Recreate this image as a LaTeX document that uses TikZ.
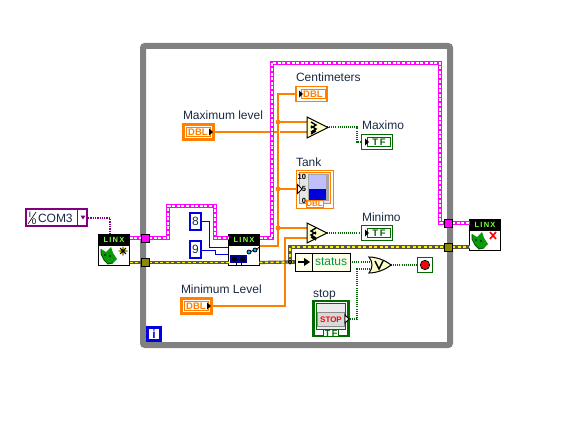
\documentclass[tikz,border=0pt]{standalone}
\usepackage{fontspec}
\setmainfont{Liberation Sans}
\definecolor{wOrange}{HTML}{FF8000}
\definecolor{wPink}{HTML}{FF00FF}
\definecolor{wGreen}{HTML}{006A00}
\definecolor{wPurple}{HTML}{800080}
\definecolor{wBlue}{HTML}{0000E0}
\definecolor{frameGray}{HTML}{808080}
\definecolor{gateFill}{HTML}{FFFFC8}
\definecolor{labelInk}{HTML}{1A2A44}
\definecolor{linxGreen}{HTML}{80FF40}
\definecolor{catGreen}{HTML}{0A9A0A}
\tikzset{
  every node/.style={inner sep=0pt,outer sep=0pt,font=\fontsize{12}{12}\selectfont},
  lab/.style={anchor=base west,text=labelInk},
  pinkw/.style={draw=wPink,line width=3.2pt,postaction={draw=white,line width=1.4pt,dash pattern=on 3pt off 1.6pt}},
  errw/.style={draw=black!75!yellow,line width=3.2pt,postaction={draw=yellow,line width=1.4pt,dash pattern=on 3pt off 2.5pt}},
  orw/.style={draw=wOrange,line width=1.1pt},
  grw/.style={draw=wGreen,line width=1.1pt,dash pattern=on 1pt off 1.1pt},
  puw/.style={draw=wPurple,line width=1.3pt,dash pattern=on 1.3pt off 1pt},
  blw/.style={draw=wBlue,line width=1pt},
  box/.style={rectangle,draw=black,fill=white,line width=1pt},
  tunnel/.style={rectangle,draw=black,line width=1pt,minimum width=8pt,minimum height=8pt},
  ctl/.style={rectangle,draw=#1,fill=white,line width=2.6pt,minimum width=30pt,minimum height=15pt},
  ind/.style={rectangle,draw=#1,fill=white,line width=1.4pt,minimum width=31pt,minimum height=15pt},
  tag/.style={rectangle,draw=#1,fill=white,line width=1pt,text=#1,minimum width=20pt,minimum height=8pt},
  inner/.style={rectangle,draw=#1,line width=.8pt,text=#1,minimum height=9pt,minimum width=24pt,font=\fontsize{9.5}{9.5}\bfseries\selectfont},
  gate/.style={draw=black,fill=gateFill,line width=1pt,line join=miter},
  glyph/.style={draw=black,line width=1.4pt},
}
\newcommand{\linxbox}[3]{% name, left, top
  \node[box,minimum width=31pt,minimum height=31pt] (#1) at (#2+16,#3+16) {};
  \node[rectangle,fill=black,minimum width=31pt,minimum height=11pt,text=linxGreen,font=\fontsize{7.5}{7.5}\bfseries\selectfont] (#1-head) at (#2+16,#3+6) {L\,I\,N\,X};
}
\newcommand{\catshape}[2]{%
  \begin{scope}[shift={(#1,#2)}]
    \fill[catGreen] (3,15)--(8,18)--(13,13)--(15,19)--(19,25)--(15,29)--(10,30)--(6,26)--(3,20)--cycle;
    \draw[black!70!green,line width=.8pt] (3,15)--(3,20)--(6,26)--(10,30)--(15,29);
    \fill[black!80!green] (7,21) circle (1.2pt) (12,22) circle (1.2pt);
  \end{scope}}
\begin{document}
\begin{tikzpicture}[x=1pt,y=-1pt]
\useasboundingbox (0,0) rectangle (564,422);
% loop frame
\node[rectangle,draw=frameGray,line width=6pt,rounded corners=2pt,minimum width=307pt,minimum height=299pt] (loop) at (296.5,195.5) {};

% ports and bends
\coordinate (pinkA) at (168,206); \coordinate (pinkB) at (215,206);
\coordinate (pinkC) at (272,63);  \coordinate (pinkD) at (440,63);
\coordinate (errA) at (290,247);
\coordinate (jTop) at (278,94); \coordinate (jCmp) at (278,122);
\coordinate (jTank) at (278,189); \coordinate (jMin) at (278,228);
\coordinate (jRead) at (278,246);
\coordinate (jErr) at (290,262);

% terminals and nodes
\linxbox{init}{98}{234}
\linxbox{read}{228}{234}
\linxbox{close}{469}{219}
\node[tunnel,fill=wPink] (tp1) at (145,238) {};
\node[tunnel,fill=olive] (te1) at (145,262.5) {};
\node[tunnel,fill=wPink] (tp2) at (448,223) {};
\node[tunnel,fill=olive] (te2) at (448,247) {};

% wires
\draw[orw] (214,132) -- (307,132);
\draw[white,line width=3pt] (278,129) -- (278,135);
\draw[orw] (read.east |- jRead) -- (jRead) -- (jTop) -- (296,94);
\draw[orw] (jCmp) -- (307,122);
\draw[orw] (jTank) -- (296,189);
\draw[orw] (jMin) -- (307,228);
\draw[orw] (212,306) -| (285,238) -- (307,238);
\draw[puw] (88,218) -| (init.north -| 110,234);
\draw[pinkw] (init.east |- tp1) -- (tp1);
\draw[pinkw] (tp1) -| (pinkA) -| (pinkB) |- (read.west |- tp1);
\draw[pinkw] (read.east |- tp1) -| (pinkC) -| (pinkD) |- (tp2);
\draw[pinkw] (tp2) -- (close.west |- tp2);
\draw[errw] (init.east |- te1) -- (te1);
\draw[errw] (te1) -- (read.west |- te1);
\draw[errw] (read.east |- te1) -- (jErr);
\draw[errw] (te2) -- (close.west |- te2);
\draw[blw] (202,221) -| (209,247) -- (228,247);
\draw[blw] (202,250) -| (215,254) -- (228,254);
\draw[errw] (290,262) -- (errA) -- (te2);
\draw[errw] (jErr) -- (295,262);
\draw[grw] (327,127) -- (357,127) |- (361,142);
\draw[grw] (327,233) -- (361,233);
\draw[grw] (350,262) -- (370,262);
\draw[grw] (370,269) -| (357,319) -- (348,319);
\draw[grw] (391,265) -- (417,265);
\fill[wOrange] (jCmp) circle (2.4pt) (jTank) circle (2.4pt) (jMin) circle (2.4pt);
\filldraw[fill=yellow!60!black,draw=black,line width=1pt] (jErr) circle (1.8pt);

% redraw tunnels on top of wires
\node[tunnel,fill=wPink] at (tp1) {};
\node[tunnel,fill=olive] at (te1) {};
\node[tunnel,fill=wPink] at (tp2) {};
\node[tunnel,fill=olive] at (te2) {};

% LINX icons
\catshape{98}{234}
\catshape{469}{219}
\fill[yellow] (123,251) circle (3.5pt);
\draw[black,line width=.8pt] (118.5,251)--(127.5,251) (123,246.5)--(123,255.5) (120,248)--(126,254) (126,248)--(120,254);
\draw[red,line width=1.6pt] (490,232)--(496,239) (496,232)--(490,239);
\draw[black,line width=.8pt,fill=cyan] (249,252) circle (2pt) (255,250) circle (2pt);
\draw[black,line width=.8pt] (251,251.5)--(253,250.5) (257,249.5)--(259,247);
\fill[wBlue!70!black] (230,255) rectangle (247,263);
\fill[black] (234.5,259) circle (2.6pt) (242.5,259) circle (2.6pt);
\draw[black,line width=.8pt] (236,263)--(236,266) (241,263)--(241,266);

% VISA constant
\node[rectangle,draw=wPurple,fill=white,line width=2.2pt,minimum width=61pt,minimum height=17pt] (com) at (56.5,217.5) {};
\draw[wPurple,line width=1pt] (77,209)--(77,226);
\fill[wPurple] (80.5,215.5) -- (85.5,215.5) -- (83,219.5) -- cycle;
\node[text=black,font=\fontsize{8}{8}\selectfont] (ioI) at (30,215) {I};
\node[text=black,font=\fontsize{8}{8}\selectfont] (ioO) at (34,222) {0};
\draw[black,line width=.6pt] (28,224)--(36,212);
\node[anchor=west,text=labelInk] (comtext) at (38,218) {COM3};

% numeric constants
\node[rectangle,draw=wBlue,fill=white,line width=2.4pt,minimum width=11pt,minimum height=17pt,text=labelInk] (c8) at (195.5,221.5) {8};
\node[rectangle,draw=wBlue,fill=white,line width=2.4pt,minimum width=11pt,minimum height=17pt,text=labelInk] (c9) at (195.5,249.5) {9};

% Maximum level
\node[lab] (lMax) at (183,120) {Maximum level};
\node[ctl=wOrange] (tMax) at (198.5,132) {};
\node[inner=wOrange] (tMaxIn) at (198,132) {DBL};
\fill[black] (209,128.5)--(213,132)--(209,135.5)--cycle;

% Centimeters
\node[lab] (lCm) at (296,82) {Centimeters};
\node[ind=wOrange] (tCm) at (311.5,94) {};
\node[inner=wOrange] (tCmIn) at (313,94) {DBL};
\fill[black] (299,90.5)--(303,94)--(299,97.5)--cycle;

% Minimum Level
\node[lab] (lMin) at (181,293) {Minimum Level};
\node[ctl=wOrange] (tMin) at (196.5,306) {};
\node[inner=wOrange] (tMinIn) at (196,306) {DBL};
\fill[black] (207,302.5)--(211,306)--(207,309.5)--cycle;

% Maximo / Minimo indicators
\node[lab] (lMaxo) at (362,130) {Maximo};
\node[ind=wGreen] (tMaxo) at (377,142) {};
\node[inner=wGreen,minimum width=23pt] (tMaxoIn) at (379,142) {T\,F};
\fill[black] (365,138.5)--(369,142)--(365,145.5)--cycle;
\node[lab] (lMino) at (362,221) {Minimo};
\node[ind=wGreen] (tMino) at (377,233) {};
\node[inner=wGreen,minimum width=23pt] (tMinoIn) at (379,233) {T\,F};
\fill[black] (365,229.5)--(369,233)--(365,236.5)--cycle;

% comparators
\draw[gate] (307,117)--(328,127.5)--(307,138)--cycle;
\draw[glyph] (311,122)--(316,125)--(311,128) (311,126)--(316,129)--(311,132) (311,134)--(316,131);
\draw[gate] (307,223)--(327,233)--(307,243)--cycle;
\draw[glyph] (316,228)--(311,231)--(316,234) (316,232)--(311,235)--(316,238) (316,240)--(311,237);

% Tank
\node[lab] (lTank) at (296,166) {Tank};
\node[rectangle,draw=wOrange,fill=white,line width=1pt,minimum width=37pt,minimum height=38pt] (tank) at (314.5,189) {};
\node[rectangle,draw=wOrange,fill=black!10,line width=.8pt,minimum width=31pt,minimum height=31pt] (tankIn) at (314.5,188) {};
\fill[black!35] (308,174) rectangle (329,201);
\fill[blue!25!white] (309,175) rectangle (326,189);
\fill[blue!85!black] (309,189) rectangle (326,200);
\node[font=\fontsize{7.5}{7.5}\bfseries\selectfont,anchor=east] (t10) at (306,177) {10};
\node[font=\fontsize{7.5}{7.5}\bfseries\selectfont,anchor=east] (t5) at (306,189) {5};
\node[font=\fontsize{7.5}{7.5}\bfseries\selectfont,anchor=east] (t0) at (306,201) {0};
\draw[black,fill=white,line width=.8pt] (297.5,184.5)--(302,189)--(297.5,193.5)--cycle;
\node[tag=wOrange,minimum width=17pt,minimum height=7pt,font=\fontsize{8}{8}\bfseries\selectfont] (tankTag) at (314.5,204) {DBL};

% status unbundle
\node[rectangle,draw=black,fill=gateFill!40,line width=1pt,minimum width=55pt,minimum height=18pt] (unb) at (322.5,262) {};
\draw[black,line width=1pt] (312,253)--(312,271);
\draw[black,line width=2.2pt] (298,262)--(306,262);
\fill[black] (304,258)--(310,262)--(304,266)--cycle;
\node[anchor=west,text=wGreen!70!cyan] (stat) at (315,262) {status};

% or gate
\draw[gate] (369,257) .. controls (376,257) and (385,260) .. (391,265) .. controls (385,270) and (376,273) .. (369,273) .. controls (373,268) and (373,262) .. (369,257) -- cycle;
\draw[glyph,line width=1.5pt] (375,261)--(379,269)--(383,261);

% stop condition
\node[rectangle,draw=wGreen,fill=white,line width=1.2pt,minimum width=15pt,minimum height=15pt] (cond) at (425,265) {};
\fill[red] (425,265) circle (4.2pt);
\draw[black,line width=.9pt] (425,265) circle (4.6pt);

% stop button
\node[lab] (lStop) at (313,297) {stop};
\node[rectangle,draw=wGreen,fill=white,line width=2.4pt,minimum width=35pt,minimum height=35pt] (stopO) at (331,318.5) {};
\node[rectangle,draw=wGreen,fill=black!8,line width=1pt,minimum width=29pt,minimum height=26pt] (stopI) at (331,316) {};
\node[rectangle,draw=black!45,fill=black!15,line width=1.2pt,minimum width=27pt,minimum height=14pt,text=red,font=\fontsize{8}{8}\bfseries\selectfont] (stopB) at (331,319.5) {STOP};
\draw[black,fill=white,line width=.8pt] (345,315)--(349,319)--(345,323)--cycle;
\node[tag=wGreen,minimum width=15pt,minimum height=7pt,font=\fontsize{9}{9}\bfseries\selectfont] (stopT) at (331,333) {T\,F};

% iteration terminal
\node[rectangle,draw=wBlue,fill=white,line width=2.6pt,minimum width=13.5pt,minimum height=13.5pt,text=wBlue,font=\fontsize{12}{12}\bfseries\selectfont] (iter) at (154,334) {i};
\end{tikzpicture}
\end{document}
